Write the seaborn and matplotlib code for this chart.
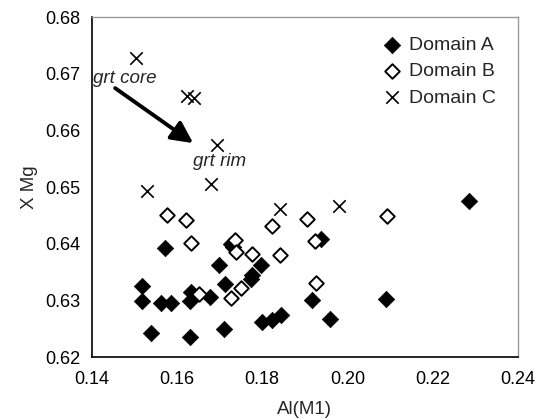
import numpy as np
import pandas as pd
import seaborn as sns
import matplotlib.pyplot as plt

# Values
a_x = [0.1572, 0.1519, 0.1517, 0.1562, 0.1586, 0.1539, 0.1630, 0.1634, 0.1630,
       0.1677, 0.1699, 0.1712, 0.1711, 0.1726, 0.1732, 0.1773, 0.1777, 0.1796,
       0.1800, 0.1824, 0.1845, 0.1939, 0.1917, 0.1958, 0.2091, 0.2284]
a_y = [0.6393, 0.6326, 0.6299, 0.6295, 0.6295, 0.6243, 0.6299, 0.6315, 0.6236,
       0.6307, 0.6362, 0.6329, 0.6250, 0.6400, 0.6395, 0.6338, 0.6345, 0.6362,
       0.6263, 0.6266, 0.6275, 0.6409, 0.6301, 0.6268, 0.6303, 0.6475]

b_x = [0.1577, 0.1622, 0.1632, 0.1736, 0.1738, 0.1775, 0.1822, 0.1841,
       0.1652, 0.1750, 0.1726, 0.1905, 0.1923, 0.1927, 0.2092]
b_y = [0.6451, 0.6442, 0.6402, 0.6407, 0.6386, 0.6382, 0.6432, 0.6380,
       0.6312, 0.6322, 0.6304, 0.6444, 0.6406, 0.6331, 0.6449]

c_x = [0.1504, 0.1624, 0.1640, 0.1693, 0.1681, 0.1530, 0.1841, 0.1981]
c_y = [0.6728, 0.6662, 0.6657, 0.6575, 0.6506, 0.6493, 0.6461, 0.6467]

x_ticks = [0.14, 0.16, 0.18, 0.20, 0.22, 0.24]
y_ticks = [0.62, 0.63, 0.64, 0.65, 0.66, 0.67, 0.68]

df_a = pd.DataFrame({"x": a_x, "y": a_y})
df_b = pd.DataFrame({"x": b_x, "y": b_y})
df_c = pd.DataFrame({"x": c_x, "y": c_y})

sns.set_style("white")
plt.rcParams['font.family'] = ['Liberation Sans', 'DejaVu Sans']
plt.rcParams['font.size'] = 13

fig = plt.figure(figsize=(5.41, 4.2), dpi=100)
ax = fig.add_axes([0.1695, 0.1493, 0.788, 0.8095])

sns.scatterplot(data=df_a, x="x", y="y", marker="D", s=70, color="black",
                edgecolor="black", linewidth=0.5, label="Domain A", ax=ax)
sns.scatterplot(data=df_b, x="x", y="y", marker="D", s=55, facecolor="white",
                edgecolor="black", linewidth=1.4, label="Domain B", ax=ax)
sns.scatterplot(data=df_c, x="x", y="y", marker="x", s=80, color="black",
                linewidth=1.2, label="Domain C", ax=ax)

# arrow + notes
ax.annotate("", xy=(0.1638, 0.6578), xytext=(0.1455, 0.6675),
            arrowprops=dict(arrowstyle="-|>,head_length=1.0,head_width=0.5",
                            color="black", lw=2.8, shrinkA=0, shrinkB=0))
ax.text(0.1403, 0.6692, "grt core", fontsize=13.5, style="italic", va="center", ha="left")
ax.text(0.1700, 0.6545, "grt rim", fontsize=13.5, style="italic", va="center", ha="center")

ax.set_xlim(0.14, 0.24)
ax.set_ylim(0.62, 0.68)
ax.set_xticks(x_ticks)
ax.set_yticks(y_ticks)
ax.set_xticklabels([f"{v:.2f}" for v in x_ticks])
ax.set_yticklabels([f"{v:.2f}" for v in y_ticks])
ax.tick_params(direction="out", length=4, width=1, colors="black", labelsize=13)
ax.tick_params(axis="x", pad=6)
ax.tick_params(axis="y", pad=4)

ax.set_xlabel("Al(M1)", fontsize=13.5, labelpad=9)
ax.set_ylabel("X Mg", fontsize=13.5, labelpad=5)

for side in ["left", "bottom"]:
    ax.spines[side].set_color("black")
    ax.spines[side].set_linewidth(1.2)
for side in ["top", "right"]:
    ax.spines[side].set_color("#999999")
    ax.spines[side].set_linewidth(1.0)

leg = ax.legend(loc="upper right", frameon=False, fontsize=14, handletextpad=0.4,
                handlelength=1.0, labelspacing=0.45, borderaxespad=0.4,
                bbox_to_anchor=(0.985, 0.99))

fig.savefig("out.png", dpi=100)
